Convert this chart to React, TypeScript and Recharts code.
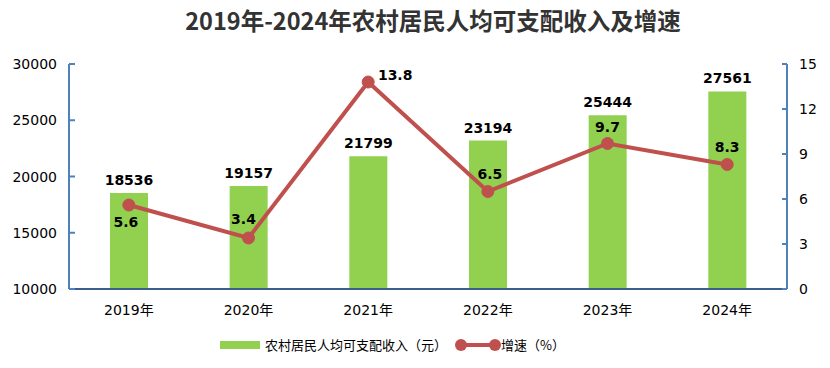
import { ComposedChart, Bar, Line, XAxis, YAxis, LabelList } from 'recharts'

// values
const years = ['2019年', '2020年', '2021年', '2022年', '2023年', '2024年']
const income = [18536, 19157, 21799, 23194, 25444, 27561]
const growth = [5.6, 3.4, 13.8, 6.5, 9.7, 8.3]
const leftTicks = [10000, 15000, 20000, 25000, 30000]
const rightTicks = [0, 3, 6, 9, 12, 15]

// where each growth label sits relative to its dot
const growthLabelOffset = [
  { dx: -3, dy: 17 },
  { dx: -5, dy: -19 },
  { dx: 27, dy: -7 },
  { dx: 2, dy: -18 },
  { dx: 0, dy: -17 },
  { dx: 0, dy: -18 },
]

const data = years.map((year, i) => ({ year, income: income[i], growth: growth[i] }))

const GREEN = '#92D050'
const RED = '#C0504D'
const AXIS = '#4F81BD'
const NUM_FONT = "'DejaVu Sans', 'Noto Sans CJK SC', sans-serif"
const CJK_FONT = "'Noto Sans CJK SC', sans-serif"

const LeftTick = (props: any) => {
  const { x, y, payload } = props
  return (
    <g>
      <line x1={x} x2={x + 6} y1={y} y2={y} stroke={AXIS} strokeWidth={2} />
      <text x={x - 12} y={y} dy="0.36em" textAnchor="end" fontSize={14} fill="#000" fontFamily={NUM_FONT}>
        {payload.value}
      </text>
    </g>
  )
}

const RightTick = (props: any) => {
  const { x, y, payload } = props
  return (
    <g>
      <line x1={x - 5} x2={x} y1={y} y2={y} stroke={AXIS} strokeWidth={2} />
      <text x={x + 12} y={y} dy="0.36em" textAnchor="start" fontSize={14} fill="#000" fontFamily={NUM_FONT}>
        {payload.value}
      </text>
    </g>
  )
}

const GrowthLabel = (props: any) => {
  const { x, y, value, index } = props
  const off = growthLabelOffset[index] || { dx: 0, dy: -18 }
  return (
    <text
      x={x + off.dx}
      y={y + off.dy}
      dy="0.36em"
      textAnchor="middle"
      fontSize={14}
      fontWeight="bold"
      fill="#000"
      fontFamily={NUM_FONT}
    >
      {value}
    </text>
  )
}

const ChartLegend = () => (
  <div
    style={{
      position: 'absolute',
      top: 335,
      left: 220,
      display: 'flex',
      alignItems: 'center',
      fontFamily: CJK_FONT,
      fontSize: 13,
      lineHeight: '20px',
      color: '#000',
    }}
  >
    <span style={{ display: 'inline-block', width: 40, height: 8, background: GREEN, marginRight: 5 }} />
    <span>农村居民人均可支配收入（元）</span>
    <svg width={46} height={14} style={{ marginLeft: 8 }}>
      <line x1={5} x2={41} y1={7} y2={7} stroke={RED} strokeWidth={4} />
      <circle cx={6} cy={7} r={6} fill={RED} />
      <circle cx={40} cy={7} r={6} fill={RED} />
    </svg>
    <span>增速（%）</span>
  </div>
)

export default function App() {
  return (
    <div style={{ position: 'absolute', left: 0, top: 0, width: 830, height: 368, background: '#fff' }}>
      <div
        style={{
          position: 'absolute',
          top: 3,
          left: 18,
          width: 830,
          textAlign: 'center',
          fontFamily: CJK_FONT,
          fontWeight: 'bold',
          fontSize: 23.5,
          color: '#333',
        }}
      >
        2019年-2024年农村居民人均可支配收入及增速
      </div>
      <ComposedChart width={830} height={368} data={data} margin={{ top: 64, right: 0, bottom: 49, left: 0 }}>
        <XAxis
          dataKey="year"
          height={30}
          axisLine={{ stroke: '#3A5F8A', strokeWidth: 2 }}
          tickLine={false}
          tickSize={0}
          tickMargin={16}
          tick={{ fontSize: 14, fill: '#000', fontFamily: NUM_FONT }}
        />
        <YAxis
          yAxisId="left"
          orientation="left"
          width={69}
          domain={[10000, 30000]}
          ticks={leftTicks}
          allowDataOverflow
          axisLine={{ stroke: AXIS, strokeWidth: 2 }}
          tickLine={false}
          tickSize={0}
          tickMargin={0}
          tick={<LeftTick />}
        />
        <YAxis
          yAxisId="right"
          orientation="right"
          width={43}
          domain={[0, 15]}
          ticks={rightTicks}
          axisLine={{ stroke: AXIS, strokeWidth: 2 }}
          tickLine={false}
          tickSize={0}
          tickMargin={0}
          tick={<RightTick />}
        />
        <Bar yAxisId="left" dataKey="income" fill={GREEN} barSize={38} isAnimationActive={false}>
          <LabelList
            dataKey="income"
            position="top"
            offset={8}
            fontSize={14}
            fontWeight="bold"
            fill="#000"
            fontFamily={NUM_FONT}
          />
        </Bar>
        <Line
          yAxisId="right"
          dataKey="growth"
          stroke={RED}
          strokeWidth={4}
          dot={{ r: 6, fill: RED, stroke: RED, strokeWidth: 1 }}
          activeDot={false}
          isAnimationActive={false}
        >
          <LabelList dataKey="growth" content={<GrowthLabel />} />
        </Line>
      </ComposedChart>
      <ChartLegend />
    </div>
  )
}
